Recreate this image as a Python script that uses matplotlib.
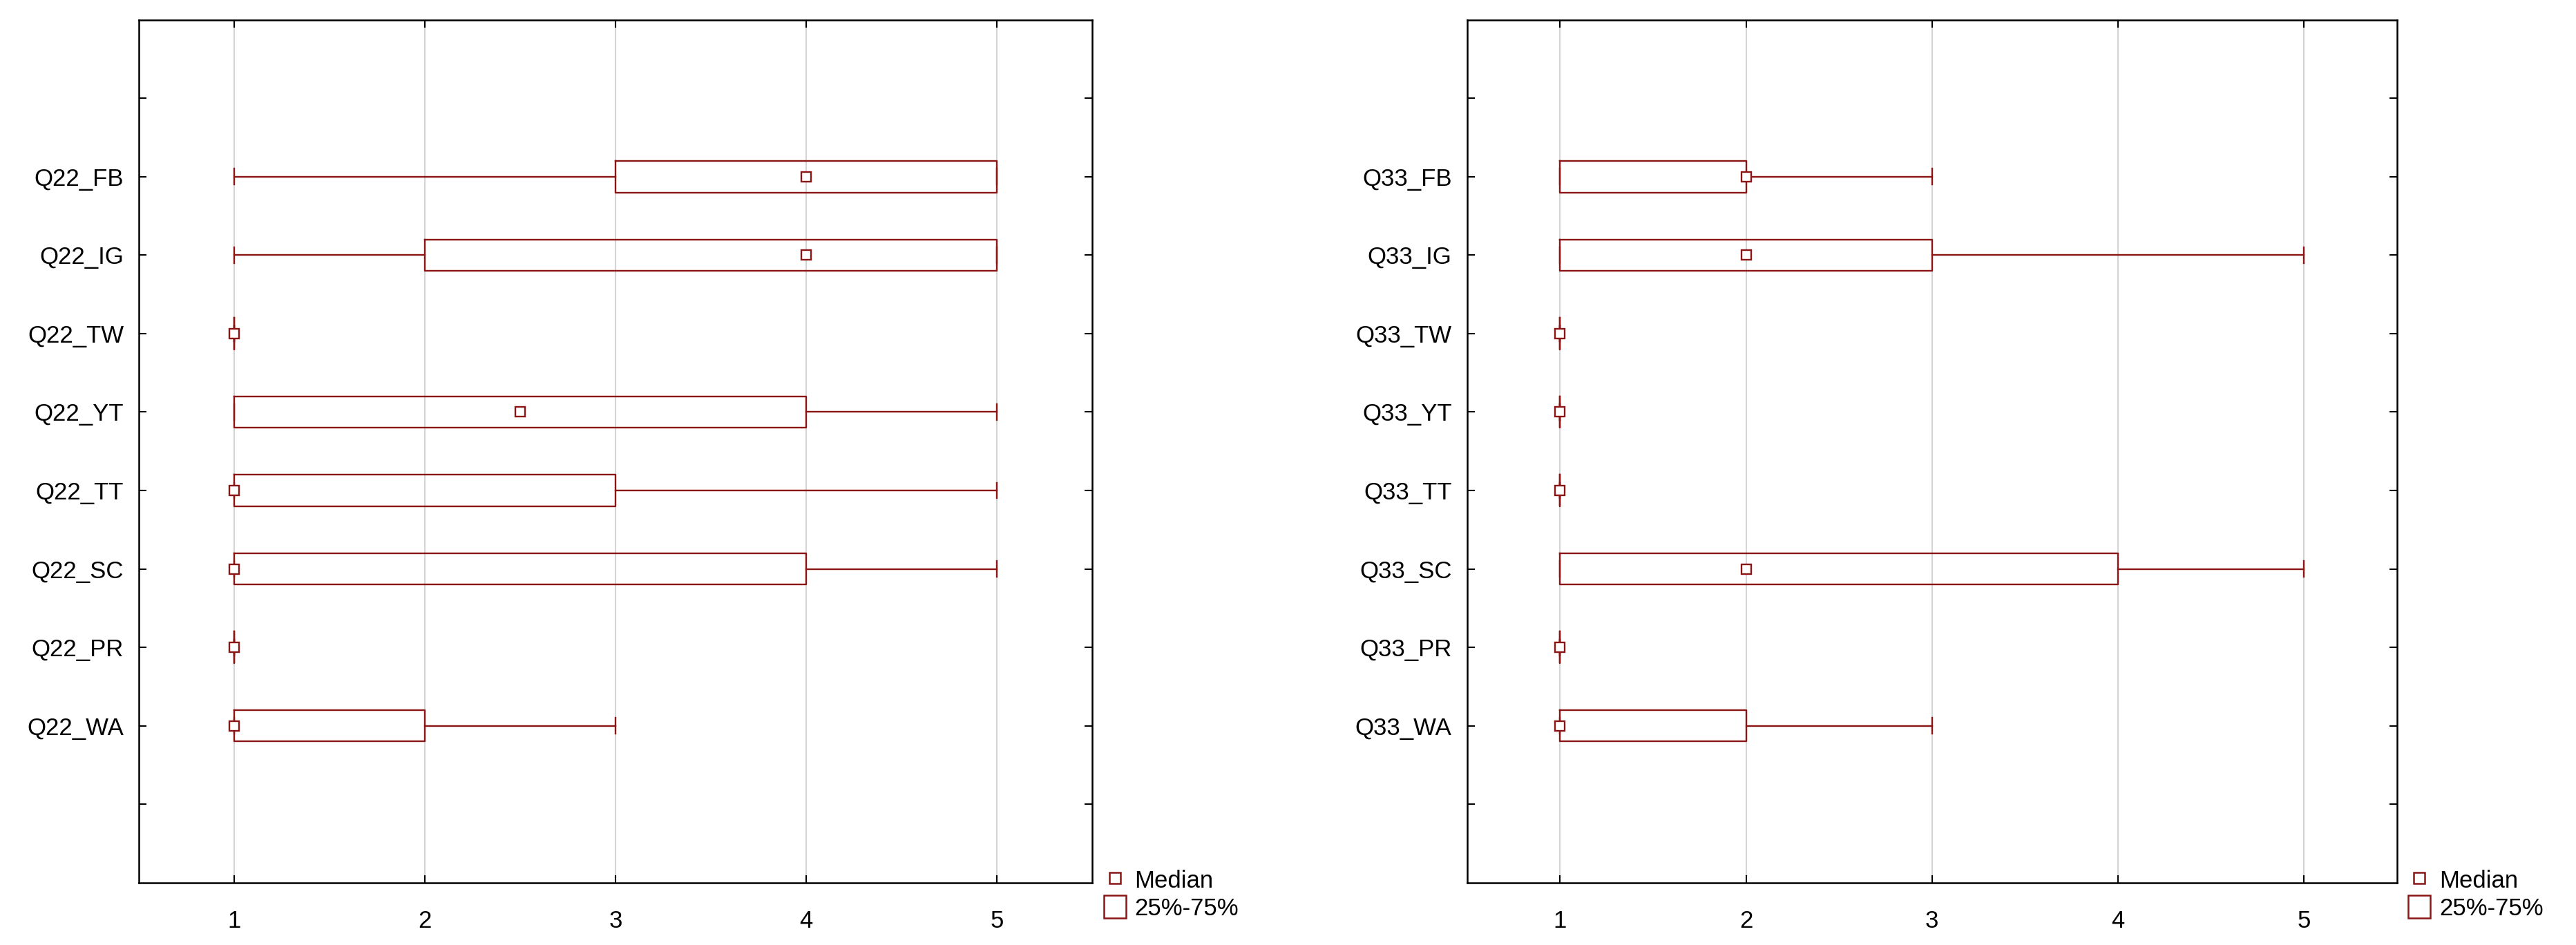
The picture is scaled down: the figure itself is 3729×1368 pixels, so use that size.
import matplotlib
matplotlib.use("Agg")
import matplotlib.pyplot as plt
from matplotlib.lines import Line2D
from matplotlib.patches import Patch

plt.rcParams['font.family'] = ['Liberation Sans Narrow', 'Liberation Sans', 'DejaVu Sans']

# data (top to bottom)
items = ["FB", "IG", "TW", "YT", "TT", "SC", "PR", "WA"]

q22_low = [1, 1, 1, 1, 1, 1, 1, 1]
q22_q1 = [3, 2, 1, 1, 1, 1, 1, 1]
q22_med = [4, 4, 1, 2.5, 1, 1, 1, 1]
q22_q3 = [5, 5, 1, 4, 3, 4, 1, 2]
q22_high = [5, 5, 1, 5, 5, 5, 1, 3]

q33_low = [1, 1, 1, 1, 1, 1, 1, 1]
q33_q1 = [1, 1, 1, 1, 1, 1, 1, 1]
q33_med = [2, 2, 1, 1, 1, 2, 1, 1]
q33_q3 = [2, 3, 1, 1, 1, 4, 1, 2]
q33_high = [3, 5, 1, 1, 1, 5, 1, 3]

x_ticks = [1, 2, 3, 4, 5]
red = '#8b1515'
fs = 25


def draw_panel(ax, prefix, low, q1, med, q3, high):
    pos = list(range(1, len(items) + 1))
    stats = []
    for i in range(len(items)):
        stats.append(dict(med=med[i], q1=q1[i], q3=q3[i],
                          whislo=low[i], whishi=high[i], fliers=[]))
    ax.bxp(stats, positions=pos, widths=0.4, capwidths=0.2,
           orientation='horizontal', manage_ticks=False,
           boxprops=dict(color=red, linewidth=1.7),
           whiskerprops=dict(color=red, linewidth=1.7),
           capprops=dict(color=red, linewidth=1.7),
           medianprops=dict(visible=False))
    ax.plot(med, pos, 's', mfc='white', mec=red, ms=10, mew=1.7,
            linestyle='none', zorder=4)

    ax.set_xlim(0.5, 5.5)
    ax.set_ylim(10, -1)
    ax.set_xticks(x_ticks)
    ax.set_yticks(range(0, 10))
    ax.set_yticklabels([''] + [f"{prefix}_{s}" for s in items] + [''])
    ax.grid(axis='x', color='#d4d4d4', linewidth=1.5)
    ax.set_axisbelow(True)
    ax.tick_params(direction='in', top=True, right=True, length=8,
                   width=1.5, labelsize=fs)
    ax.tick_params(axis='x', pad=28)
    ax.tick_params(axis='y', pad=16)
    for sp in ax.spines.values():
        sp.set_linewidth(1.8)

    handles = [Line2D([], [], marker='s', linestyle='none', mfc='white',
                      mec=red, ms=12, mew=1.8),
               Patch(facecolor='white', edgecolor=red, linewidth=1.8)]
    ax.legend(handles, ['Median', '25%-75%'], loc='upper left',
              bbox_to_anchor=(1.012, 0.017), frameon=False, fontsize=fs,
              handlelength=0.92, handleheight=1.1, handletextpad=0.37,
              labelspacing=0.12, borderaxespad=0, borderpad=0)


fig = plt.figure(figsize=(37.29, 13.68), dpi=100)
ax1 = fig.add_axes([0.054, 0.066, 0.370, 0.913])
ax2 = fig.add_axes([0.5695, 0.066, 0.361, 0.913])

draw_panel(ax1, "Q22", q22_low, q22_q1, q22_med, q22_q3, q22_high)
draw_panel(ax2, "Q33", q33_low, q33_q1, q33_med, q33_q3, q33_high)

fig.savefig("out.png", dpi=100)
